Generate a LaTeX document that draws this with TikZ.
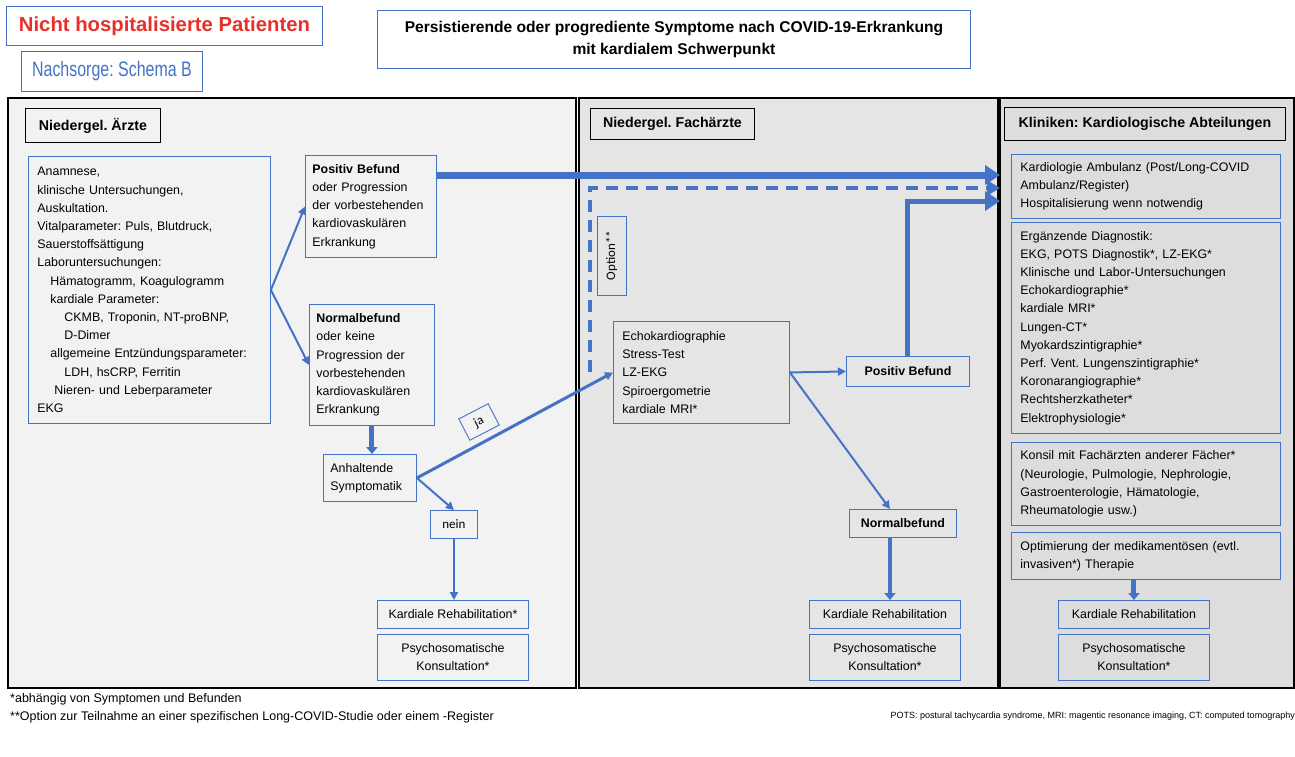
\documentclass[tikz,border=0pt]{standalone}
\usepackage{fontspec}
\setmainfont{Liberation Sans}
\newfontfamily\calib{Carlito}
\usetikzlibrary{arrows.meta}
\definecolor{bblue}{HTML}{4472C4}
\definecolor{tred}{HTML}{E8302A}
\definecolor{pA}{HTML}{F2F2F2}
\definecolor{pB}{HTML}{E5E5E5}
\definecolor{pC}{HTML}{DDDDDD}
\newcommand\tf{\fontsize{12.4}{18.2}\selectfont}
\newcommand\hf{\fontsize{14.2}{20}\selectfont\bfseries}
\frenchspacing
\begin{document}
\frenchspacing
\begin{tikzpicture}[x=1pt,y=-1pt,
  box/.style={draw=bblue, line width=0.9pt, anchor=north west, inner xsep=9pt, inner ysep=0pt, align=left, font=\tf},
  cbox/.style={box, align=center, inner xsep=2pt},
  hdr/.style={draw=black, line width=0.9pt, anchor=north west, inner sep=0pt, font=\hf},
  panel/.style={draw=black, line width=1.2pt},
  arr/.style={draw=bblue, line width=2pt, -{Triangle[length=8pt,width=8pt]}},
  fat/.style={draw=bblue, line width=7pt, -{Triangle[length=15pt,width=19pt]}},
  mid/.style={draw=bblue, line width=5pt, -{Triangle[length=7pt,width=11pt]}},
  dsh/.style={draw=bblue, line width=3.5pt, dash pattern=on 12pt off 8pt, -{Triangle[length=13pt,width=15pt]}}]
\useasboundingbox[fill=white] (0,0) rectangle (1295,756);

% top labels
\node[draw=bblue, line width=0.9pt, anchor=north west, minimum width=316, minimum height=39, inner sep=0pt, text=tred, font=\fontsize{20.3}{24}\selectfont\bfseries] (nicht) at (6,6) {Nicht hospitalisierte Patienten};
\node[draw=bblue, line width=0.9pt, anchor=north west, minimum width=181, minimum height=40, inner sep=0pt, text=bblue, font=\fontsize{21}{24}\selectfont] (nach) at (21,51) {\scalebox{0.76}[1]{Nachsorge: Schema B}};
\node[draw=bblue, line width=0.9pt, anchor=north west, minimum width=593, minimum height=58, inner sep=0pt, align=center, font=\fontsize{15.6}{22}\selectfont\bfseries] (title) at (377,10) {Persistierende oder progrediente Symptome nach COVID-19-Erkrankung\\mit kardialem Schwerpunkt};

% panels
\fill[pA] (8,98) rectangle (576,688);
\fill[pB] (579,98) rectangle (998,688);
\fill[pC] (1000,98) rectangle (1294,688);
\draw[panel] (8,98) rectangle (576,688);
\draw[panel] (579,98) rectangle (998,688);
\draw[panel] (1000,98) rectangle (1294,688);

% headers
\node[hdr, fill=pA, minimum width=135, minimum height=34] (hA) at (25,108) {Niedergel. Ärzte};
\node[hdr, fill=pB, minimum width=164, minimum height=31] (hB) at (590,108) {Niedergel. Fachärzte};
\node[hdr, fill=pC, minimum width=281, minimum height=33] (hC) at (1004,107) {Kliniken: Kardiologische Abteilungen};

% left panel
\node[box, minimum width=242, minimum height=267, text width=224] (anam) at (28,156) {Anamnese,\\
klinische Untersuchungen,\\
Auskultation.\\
Vitalparameter: Puls, Blutdruck,\\
Sauerstoffsättigung\\
Laboruntersuchungen:\\
\hspace*{13pt}Hämatogramm, Koagulogramm\\
\hspace*{13pt}kardiale Parameter:\\
\hspace*{27pt}CKMB, Troponin, NT-proBNP,\\
\hspace*{27pt}D-Dimer\\
\hspace*{13pt}allgemeine Entzündungsparameter:\\
\hspace*{27pt}LDH, hsCRP, Ferritin\\
\hspace*{17pt}Nieren- und Leberparameter\\
EKG};
\node[box, minimum width=131, minimum height=102, text width=117, inner xsep=7pt] (posA) at (305,155) {\textbf{Positiv Befund}\\oder Progression\\der vorbestehenden\\kardiovaskulären\\Erkrankung};
\node[box, minimum width=125, minimum height=121, text width=111, inner xsep=7pt] (normA) at (309,304) {\textbf{Normalbefund}\\oder keine\\Progression der\\vorbestehenden\\kardiovaskulären\\Erkrankung};
\node[box, minimum width=93, minimum height=47, text width=79, inner xsep=7pt] (anh) at (323,454) {Anhaltende\\Symptomatik};
\node[cbox, minimum width=47, minimum height=28, font=\calib\fontsize{13}{15}\selectfont] (nein) at (430,510) {nein};
\node[cbox, minimum width=151, minimum height=28] (rehaA) at (377,600) {Kardiale Rehabilitation*};
\node[cbox, minimum width=151, minimum height=46] (psyA) at (377,634) {Psychosomatische\\Konsultation*};
\node[draw=bblue, line width=0.9pt, fill=pA, rotate=27.4, minimum width=33, minimum height=24, inner sep=0pt, font=\calib\fontsize{13}{15}\selectfont] (ja) at (479,422) {ja};

% middle panel
\node[draw=bblue, line width=0.9pt, rotate=90, minimum width=79, minimum height=29, inner sep=0pt, font=\calib\fontsize{13}{15}\selectfont] (opt) at (611.5,255.5) {Option**};
\node[box, minimum width=176, minimum height=102, text width=158] (echo) at (613,321) {Echokardiographie\\Stress-Test\\LZ-EKG\\Spiroergometrie\\kardiale MRI*};
\node[cbox, minimum width=123, minimum height=30, font=\tf\bfseries] (posB) at (846,356) {Positiv Befund};
\node[cbox, minimum width=107, minimum height=28, font=\tf\bfseries] (normB) at (849,509) {Normalbefund};
\node[cbox, minimum width=151, minimum height=28] (rehaB) at (809,600) {Kardiale Rehabilitation};
\node[cbox, minimum width=151, minimum height=46] (psyB) at (809,634) {Psychosomatische\\Konsultation*};

% right panel
\node[box, minimum width=269, minimum height=64, text width=251] (amb) at (1011,154) {Kardiologie Ambulanz (Post/Long-COVID\\Ambulanz/Register)\\Hospitalisierung wenn notwendig};
\node[box, minimum width=269, minimum height=211, text width=251] (diag) at (1011,222) {Ergänzende Diagnostik:\\EKG, POTS Diagnostik*, LZ-EKG*\\Klinische und Labor-Untersuchungen\\Echokardiographie*\\kardiale MRI*\\Lungen-CT*\\Myokardszintigraphie*\\Perf. Vent. Lungenszintigraphie*\\Koronarangiographie*\\Rechtsherzkatheter*\\Elektrophysiologie*};
\node[box, minimum width=269, minimum height=83, text width=251] (kons) at (1011,442) {Konsil mit Fachärzten anderer Fächer*\\(Neurologie, Pulmologie, Nephrologie,\\Gastroenterologie, Hämatologie,\\Rheumatologie usw.)};
\node[box, minimum width=269, minimum height=47, text width=251] (optim) at (1011,532) {Optimierung der medikamentösen (evtl.\\invasiven*) Therapie};
\node[cbox, minimum width=151, minimum height=28] (rehaC) at (1058,600) {Kardiale Rehabilitation};
\node[cbox, minimum width=151, minimum height=46] (psyC) at (1058,634) {Psychosomatische\\Konsultation*};

% connector end points
\coordinate (tA) at (1000,175);
\coordinate (tB) at (1000,188);
\coordinate (tC) at (1000,201);
\coordinate (dS) at (590,372);
\coordinate (dC) at (590,188);

% connectors
\draw[arr] (anam.east) -- (posA.west);
\draw[arr] (anam.east) -- (normA.west);
\draw[mid] (normA.south) -- (normA.south |- anh.north);
\draw[arr, line width=3pt] (anh.east) -- (echo.west);
\draw[arr] (anh.east) -- (nein.north);
\draw[arr] (nein.south) -- (nein.south |- rehaA.north);
\draw[fat] (posA.east |- tA) -- (tA);
\draw[dsh] (dS) -- (dC) -- (tB);
\draw[fat, line width=5pt] (posB.north) -- (posB.north |- tC) -- (tC);
\draw[arr] (echo.east) -- (posB.west);
\draw[arr] (echo.east) -- ([xshift=-13pt]normB.north);
\draw[mid, line width=3.5pt] ([xshift=-13pt]normB.south) -- ([xshift=-13pt]normB.south |- rehaB.north);
\draw[mid] (rehaC.north |- optim.south) -- (rehaC.north);

% footnotes
\node[anchor=west, inner sep=0pt, font=\fontsize{12.5}{14}\selectfont] (fn1) at (10,699) {*abhängig von Symptomen und Befunden};
\node[anchor=west, inner sep=0pt, font=\fontsize{12.5}{14}\selectfont] (fn2) at (10,717) {**Option zur Teilnahme an einer spezifischen Long-COVID-Studie oder einem -Register};
\node[anchor=east, inner sep=0pt, font=\fontsize{9}{10}\selectfont] (fn3) at (1295,716) {POTS: postural tachycardia syndrome, MRI: magentic resonance imaging, CT: computed tomography};
\end{tikzpicture}
\end{document}
